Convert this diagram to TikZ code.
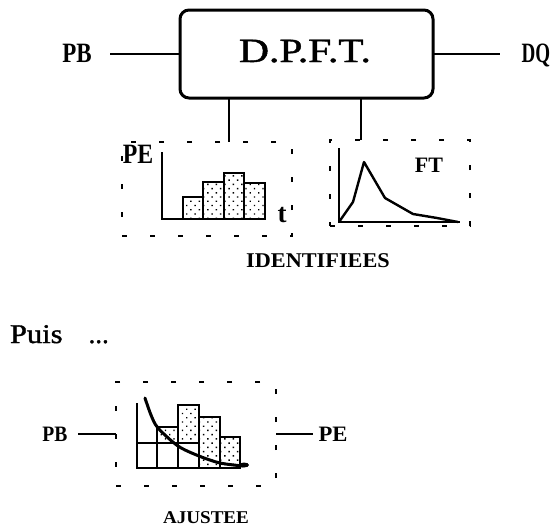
\documentclass[tikz,border=0pt]{standalone}
\usepackage{graphicx}
\usepackage{fontspec}
\setmainfont{Liberation Serif}
\newfontfamily\heavyserif[FakeBold=1.2]{Liberation Serif}
\usetikzlibrary{patterns.meta}
\newcommand{\fs}[1]{\fontsize{#1}{#1}\selectfont}
\begin{document}
\begin{tikzpicture}[x=1pt,y=-1pt,
  lbl/.style={inner sep=0pt, outer sep=0pt, anchor=base},
  mainbox/.style={draw, line width=3pt, rounded corners=9pt, inner sep=0pt, outer sep=0pt},
  dbox/.style={draw, line width=1.8pt, dash pattern=on 5pt off 23pt, inner sep=0pt, outer sep=0pt},
  wire/.style={line width=1.3pt},
  axis/.style={line width=1.6pt},
  bar/.style={draw, line width=1.5pt, fill=white, postaction={pattern={Dots[distance=6pt,radius=0.95pt,angle=45]}}},
  curve/.style={line width=2.4pt, line join=round, line cap=round}
]
\path[use as bounding box, fill=white] (0,0) rectangle (552,528);

% main block
\node[mainbox, minimum width=253pt, minimum height=88pt] (dpft) at (306.5,54) {};
\node[lbl] (dpfttxt) at (305,62) {\heavyserif\fs{34}\scalebox{1.22}[1]{D.P.F.T.}};
\node[lbl] (pb) at (77,62) {\fs{28}\bfseries\scalebox{0.82}[1]{PB}};
\node[lbl] (dq) at (536,62) {\fs{28}\bfseries\scalebox{0.68}[1]{DQ}};
\coordinate (pbend) at (110,54);
\coordinate (dqend) at (500,54);
\draw[wire] (pbend) -- (dpft.west);
\draw[wire] (dpft.east) -- (dqend);

% dashed boxes
\node[dbox, minimum width=170pt, minimum height=94pt] (lbox) at (207,189) {};
\node[dbox, minimum width=140pt, minimum height=86pt] (rbox) at (400,183) {};
\coordinate (v1) at (229,0);
\coordinate (v2) at (361,0);
\draw[wire] (dpft.south -| v1) -- (lbox.north -| v1);
\draw[wire] (dpft.south -| v2) -- (rbox.north -| v2);

% left chart (PE)
\foreach \a/\b/\t in {183/203/197, 203/224/182, 224/244/173, 244/265/183}
  \draw[bar] (\a,\t) rectangle (\b,219);
\draw[axis] (162,152) -- (162,219) -- (183,219);
\node[lbl] (pe) at (138,163) {\fs{28}\bfseries\scalebox{0.85}[1]{PE}};
\node[lbl] (t) at (282,222) {\fs{27}\bfseries t};

% right chart (FT)
\draw[axis] (339,148) -- (339,222) -- (460,222);
\draw[curve] (339,222) -- (353,202) -- (364,162) -- (385,198) -- (413,214) -- (437,218) -- (458,222);
\node[lbl] (ft) at (429,172) {\fs{22}\bfseries FT};

\node[lbl] (ident) at (318,267) {\fs{21}\bfseries\scalebox{1.06}[1]{IDENTIFIEES}};

% Puis ...
\node[lbl, anchor=base west] (puis) at (10,343) {\heavyserif\fs{27}\scalebox{1.13}[1]{Puis}\hspace{26pt}...};

% bottom block
\node[dbox, minimum width=160pt, minimum height=104pt] (bbox) at (196,434) {};
\node[lbl] (pb2) at (55,441) {\fs{22}\bfseries\scalebox{0.89}[1]{PB}};
\node[lbl] (pe2) at (333,441) {\fs{22}\bfseries\scalebox{1.03}[1]{PE}};
\coordinate (pb2end) at (78,434);
\coordinate (pe2end) at (313,434);
\draw[wire] (pb2end) -- (bbox.west);
\draw[wire] (bbox.east) -- (pe2end);

\foreach \a/\b/\t/\u in {157/178/427/443, 178/199/405/443, 199/220/417/468, 220/240/437/468}
  \draw[bar] (\a,\t) rectangle (\b,\u);
\draw[line width=1.3pt] (137,443) -- (199,443);
\foreach \x in {157,178,199}
  \draw[line width=1.3pt] (\x,443) -- (\x,468);
\draw[axis] (137,403) -- (137,468) -- (240,468);
\draw[line width=3pt, line cap=round] plot[smooth] coordinates {(145,398) (151,415) (158,428) (178,446) (199,456) (220,463) (243,466)};
\fill (244,465) ellipse (5 and 2.5);

\node[lbl] (ajustee) at (206,523) {\fs{18}\bfseries\scalebox{1.06}[1]{AJUSTEE}};
\end{tikzpicture}
\end{document}
